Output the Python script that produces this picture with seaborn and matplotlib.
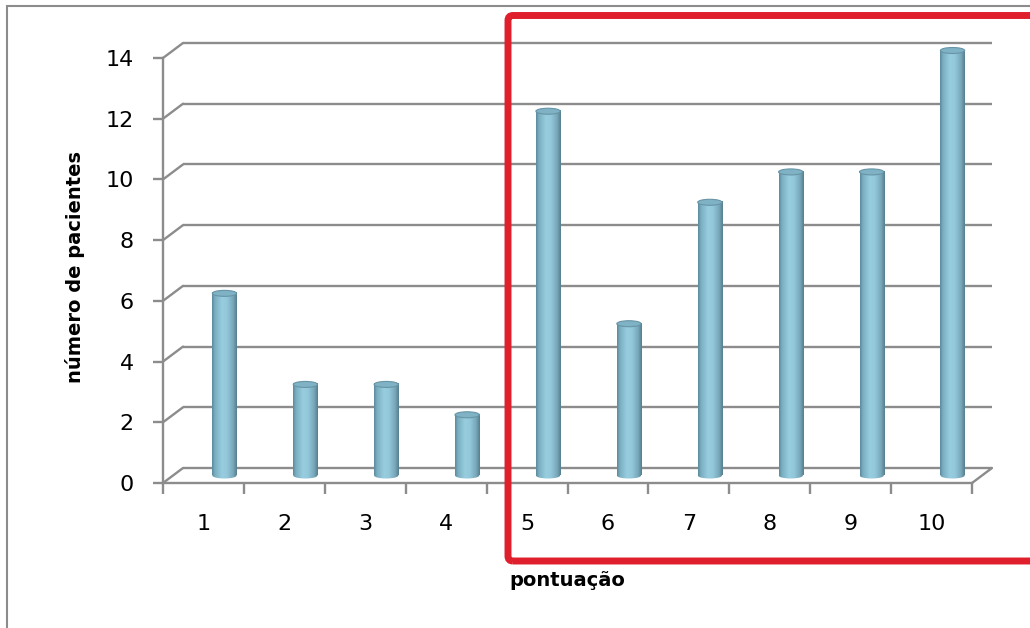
import numpy as np
import pandas as pd
import matplotlib
matplotlib.use("Agg")
import matplotlib.pyplot as plt
import seaborn as sns
from matplotlib.transforms import ScaledTranslation
from matplotlib.patches import Ellipse, Rectangle, FancyBboxPatch
from matplotlib.colors import LinearSegmentedColormap

# data
pontuacao = ["1", "2", "3", "4", "5", "6", "7", "8", "9", "10"]
pacientes = [6, 3, 3, 2, 12, 5, 9, 10, 10, 14]
y_ticks = [0, 2, 4, 6, 8, 10, 12, 14]

sns.set_theme(style="white")
plt.rcParams["font.family"] = ["DejaVu Sans"]

DPI = 100
W, H = 1030, 628
fig = plt.figure(figsize=(W / DPI, H / DPI), dpi=DPI)
fig.patch.set_facecolor("white")

# front plane of the pseudo-3D box (pixel layout)
left, right, bottom, top = 163, 972, 483, 58
ax = fig.add_axes([left / W, 1 - bottom / H, (right - left) / W, (bottom - top) / H])

GRID = "#8C8C8C"
BAR = "#92C6D9"

df = pd.DataFrame({"pontuação": pontuacao, "pacientes": pacientes})
sns.barplot(data=df, x="pontuação", y="pacientes", ax=ax, width=0.3,
            color=BAR, saturation=1, edgecolor="none", zorder=3)
ax.set_xlim(-0.5, len(pontuacao) - 0.5)
ax.set_ylim(0, 14)

# pixel -> data conversions
ax_w = right - left
ax_h = bottom - top
px_x = (len(pontuacao)) / ax_w
px_y = 14 / ax_h
depth_dx, depth_dy = 20 * px_x, 15 * px_y   # back wall offset


def shift(dx, dy):
    return ax.transData + ScaledTranslation(dx / DPI, dy / DPI, fig.dpi_scale_trans)


mid = shift(21, 7.5)

# back wall gridlines and depth connectors
x0, x1 = -0.5, len(pontuacao) - 0.5
for t in y_ticks:
    ax.plot([x0 + depth_dx, x1 + depth_dx], [t + depth_dy, t + depth_dy],
            color=GRID, lw=1.7, clip_on=False, zorder=1, solid_capstyle="butt")
    ax.plot([x0, x0 + depth_dx], [t, t + depth_dy], color=GRID, lw=1.7,
            clip_on=False, zorder=1)
# floor right edge
ax.plot([x1, x1 + depth_dx], [0, depth_dy], color=GRID, lw=1.7, clip_on=False, zorder=1)

# cylinder shading
cyl = LinearSegmentedColormap.from_list(
    "cyl", [(0.0, "#5C8A9B"), (0.12, "#7AAEC1"), (0.4, "#98CDE0"),
            (0.6, "#93C7DA"), (0.85, "#77A7B9"), (1.0, "#557E8D")])
grad = np.linspace(0, 1, 256).reshape(1, -1)
cap_h = 6 * px_y

for patch in list(ax.patches):
    bx, by = patch.get_x(), patch.get_y()
    bw, bh = patch.get_width(), patch.get_height()
    cx = bx + bw / 2
    patch.set_transform(mid)
    patch.set_clip_on(False)
    patch.set_alpha(0)
    im = ax.imshow(grad, extent=[bx, bx + bw, by, by + bh], aspect="auto",
                   cmap=cyl, interpolation="bilinear", zorder=3)
    im.set_transform(mid)
    im.set_clip_on(False)
    # rounded base
    base = Ellipse((cx, by), bw, cap_h, transform=mid, facecolor="none", edgecolor="none")
    ax.add_patch(base)
    im2 = ax.imshow(grad, extent=[bx, bx + bw, by - cap_h, by + cap_h], aspect="auto",
                    cmap=cyl, interpolation="bilinear", zorder=2.9)
    im2.set_transform(mid)
    im2.set_clip_path(base)
    # top cap
    ax.add_patch(Ellipse((cx, by + bh), bw, cap_h, transform=mid, facecolor="#7FB2C4",
                         edgecolor="#6795A6", lw=0.8, zorder=4, clip_on=False))

ax.set_xlim(-0.5, len(pontuacao) - 0.5)
ax.set_ylim(0, 14)

# front axes
for s in ["top", "right"]:
    ax.spines[s].set_visible(False)
for s in ["left", "bottom"]:
    ax.spines[s].set_color(GRID)
    ax.spines[s].set_linewidth(1.7)
ax.set_facecolor("none")
ax.grid(False)

ax.set_yticks(y_ticks)
ax.set_yticklabels([str(t) for t in y_ticks])
ax.set_xticks(range(len(pontuacao)))
ax.set_xticklabels(pontuacao)
ax.set_xticks(np.arange(-0.5, len(pontuacao), 1), minor=True)
ax.tick_params(axis="y", which="major", left=True, length=7, width=1.7, color=GRID,
               pad=14, labelsize=16, labelcolor="black")
ax.tick_params(axis="x", which="major", bottom=True, length=0, pad=22,
               labelsize=16, labelcolor="black")
ax.tick_params(axis="x", which="minor", bottom=True, length=8, width=1.7, color=GRID)

ax.set_xlabel("pontuação", fontsize=14, fontweight="bold", color="black")
ax.set_ylabel("número de pacientes", fontsize=14, fontweight="bold", color="black")
ax.xaxis.set_label_coords(0.5, (bottom - 581) / ax_h)
ax.xaxis.label.set_va("center")
ax.yaxis.set_label_coords((75 - left) / ax_w, (bottom - 267) / ax_h)
ax.yaxis.label.set_va("center")
ax.yaxis.label.set_ha("center")

# outer chart frame
fig.add_artist(Rectangle((7 / DPI, -1), 12, (H - 6) / DPI + 1, transform=fig.dpi_scale_trans,
                         fill=False, edgecolor=GRID, lw=1.5, zorder=0))

# highlight box around scores 5-10
fig.add_artist(FancyBboxPatch((508 / DPI, (H - 561) / DPI), 7.0, (561 - 15.5) / DPI,
                              boxstyle="round,pad=0,rounding_size=0.05",
                              transform=fig.dpi_scale_trans, fill=False,
                              edgecolor="#DF1F2B", lw=5, zorder=10))

fig.savefig("out.png", dpi=DPI)
